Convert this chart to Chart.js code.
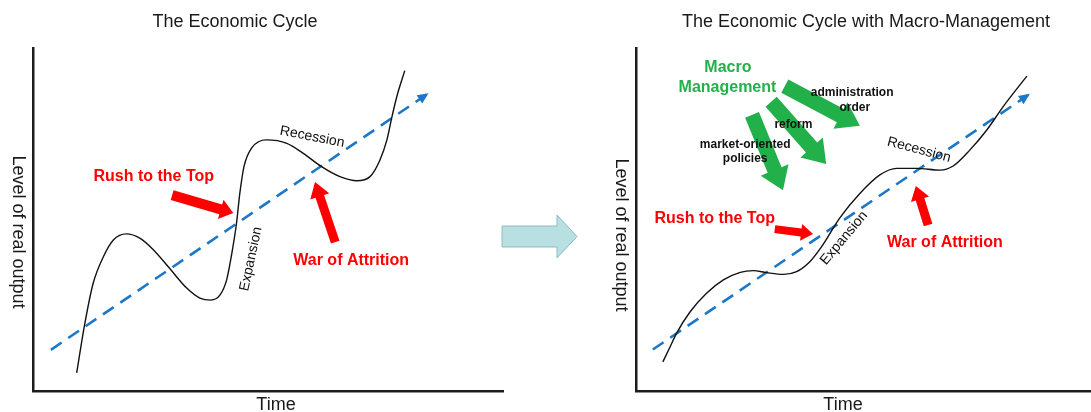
<!DOCTYPE html>
<html>
<head>
<meta charset="utf-8">
<script src="https://cdn.jsdelivr.net/npm/chart.js@4.4.1/dist/chart.umd.min.js"></script>
<style>
  body { margin: 0; background: #fff; }
  #wrap { position: relative; width: 1091px; height: 412px; overflow: hidden; }
  #leftChart  { position: absolute; left: 0;   top: 0; }
  #rightChart { position: absolute; left: 600px; top: 0; }
  #mid { position: absolute; left: 0; top: 0; }
</style>
</head>
<body>
<div id="wrap">
  <canvas id="leftChart" width="600" height="412"></canvas>
  <canvas id="rightChart" width="491" height="412"></canvas>
  <svg id="mid" width="1091" height="412">
    <polygon points="502,226 557,226 557,215 577,236.5 557,258 557,247 502,247"
             fill="#b8dfe2" stroke="#8fbcc0" stroke-width="1"/>
  </svg>
</div>
<script>
// ── Data: left panel (free cycle) ───────────────────────
const leftTime   = [9.3, 10.9, 12.8, 15.0, 17.1, 19.9, 22.8, 25.6, 29.1, 32.7, 35.5, 37.8, 39.8, 41.2, 42.3, 43.3, 44.0, 44.9, 46.5, 49.7, 54.0, 57.5, 61.4, 65.3, 68.9, 71.7, 73.8, 75.3, 76.3, 77.4, 79.1];
const leftOutput = [5.3, 18.7, 31.4, 39.2, 44.0, 45.8, 44.5, 41.2, 35.7, 30.0, 27.1, 26.5, 28.0, 32.4, 40.1, 48.9, 57.6, 65.5, 70.8, 73.2, 72.2, 69.3, 65.4, 62.5, 61.3, 62.5, 67.3, 73.2, 79.5, 85.8, 93.4];
const leftTrendTime   = [3.8, 83.8];
const leftTrendOutput = [12.0, 86.5];

// ── Data: right panel (macro-managed cycle) ─────────────
const rightTime   = [5.9, 7.5, 8.9, 11.9, 15.5, 19.2, 22.9, 25.8, 28.7, 32.4, 35.3, 38.2, 40.8, 44.8, 49.2, 53.6, 57.3, 61.7, 66.8, 69.7, 73.4, 77.1, 80.7, 85.9];
const rightOutput = [8.5, 12.9, 16.8, 23.1, 28.5, 32.4, 34.6, 35.1, 34.5, 34.0, 34.8, 37.7, 42.1, 50.5, 57.6, 63.0, 64.9, 64.9, 64.4, 65.6, 70.3, 76.1, 82.9, 91.8];
const rightTrendTime   = [3.7, 86.2];
const rightTrendOutput = [12.1, 86.3];

// ── Text / annotation setup ─────────────────────────────
const FONT = '"Liberation Sans", Arial, sans-serif';
const RED = "#ff0000";
const GREEN = "#22b04b";

const leftNotes = {
  title: "The Economic Cycle",
  titleX: 235,
  timeX: 276,
  yLabelX: 18,
  yLabelY: 232,
  arrows: [
    { from: [29.6, 57.1], to: [42.6, 51.9], shaft: 10, headW: 20, headL: 13, color: RED },
    { from: [64.3, 43.4], to: [60.0, 60.9], shaft: 9, headW: 20, headL: 15, color: RED }
  ],
  texts: [
    { t: "Rush to the Top", at: [25.7, 62.4], font: "bold 16px " + FONT, color: RED },
    { t: "War of Attrition", at: [67.7, 38.0], font: "bold 16px " + FONT, color: RED },
    { t: "Recession", at: [59.4, 74.1], rot: 11, font: "14px " + FONT, color: "#111" },
    { t: "Expansion", at: [46.4, 38.5], rot: -78, font: "14px " + FONT, color: "#111" }
  ]
};

const rightNotes = {
  title: "The Economic Cycle with Macro-Management",
  titleX: 266,
  timeX: 243,
  yLabelX: 21,
  yLabelY: 235,
  arrows: [
    { from: [32.7, 88.9], to: [49.2, 77.3], shaft: 15, headW: 30, headL: 22, color: GREEN },
    { from: [29.7, 84.3], to: [41.8, 66.2], shaft: 15, headW: 30, headL: 22, color: GREEN },
    { from: [25.5, 80.5], to: [32.3, 58.5], shaft: 15, headW: 30, headL: 22, color: GREEN },
    { from: [30.5, 47.2], to: [38.9, 45.8], shaft: 8, headW: 17, headL: 12, color: RED },
    { from: [64.2, 48.4], to: [61.5, 59.8], shaft: 9, headW: 19, headL: 14, color: RED }
  ],
  texts: [
    { t: "Macro", at: [20.2, 94.2], font: "bold 16px " + FONT, color: GREEN },
    { t: "Management", at: [20.1, 88.6], font: "bold 16px " + FONT, color: GREEN },
    { t: "administration", at: [47.5, 87.0], font: "bold 12px " + FONT, color: "#111" },
    { t: "order", at: [48.1, 82.7], font: "bold 12px " + FONT, color: "#111" },
    { t: "reform", at: [34.6, 77.6], font: "bold 12px " + FONT, color: "#111" },
    { t: "market-oriented", at: [24.0, 71.7], font: "bold 12px " + FONT, color: "#111" },
    { t: "policies", at: [24.0, 67.6], font: "bold 12px " + FONT, color: "#111" },
    { t: "Rush to the Top", at: [17.3, 50.4], font: "bold 16px " + FONT, color: RED },
    { t: "War of Attrition", at: [67.9, 43.4], font: "bold 16px " + FONT, color: RED },
    { t: "Recession", at: [62.2, 70.3], rot: 15, font: "14px " + FONT, color: "#111" },
    { t: "Expansion", at: [45.7, 44.6], rot: -50, font: "14px " + FONT, color: "#111" }
  ]
};

// ── Helpers ─────────────────────────────────────────────
function drawArrow(ctx, x0, y0, x1, y1, shaft, headW, headL, color) {
  const ang = Math.atan2(y1 - y0, x1 - x0);
  const len = Math.hypot(x1 - x0, y1 - y0);
  ctx.save();
  ctx.translate(x0, y0);
  ctx.rotate(ang);
  ctx.beginPath();
  ctx.moveTo(0, -shaft / 2);
  ctx.lineTo(len - headL, -shaft / 2);
  ctx.lineTo(len - headL, -headW / 2);
  ctx.lineTo(len, 0);
  ctx.lineTo(len - headL, headW / 2);
  ctx.lineTo(len - headL, shaft / 2);
  ctx.lineTo(0, shaft / 2);
  ctx.closePath();
  ctx.fillStyle = color;
  ctx.fill();
  ctx.restore();
}

function drawText(ctx, t, x, y, font, color, rot) {
  ctx.save();
  ctx.translate(x, y);
  if (rot) ctx.rotate(rot * Math.PI / 180);
  ctx.font = font;
  ctx.fillStyle = color;
  ctx.textAlign = "center";
  ctx.textBaseline = "middle";
  ctx.fillText(t, 0, 0);
  ctx.restore();
}

const notesPlugin = {
  id: "notes",
  afterDatasetsDraw(chart, args, opts) {
    const { ctx, scales: { x, y } } = chart;
    const n = opts.notes;

    // arrowhead at the end of the dashed trend line
    const pts = chart.getDatasetMeta(1).data;
    const a = pts[pts.length - 2], b = pts[pts.length - 1];
    const ang = Math.atan2(b.y - a.y, b.x - a.x);
    ctx.save();
    ctx.translate(b.x, b.y);
    ctx.rotate(ang);
    ctx.beginPath();
    ctx.moveTo(2, 0);
    ctx.lineTo(-9, -5);
    ctx.lineTo(-9, 5);
    ctx.closePath();
    ctx.fillStyle = "#1b78c8";
    ctx.fill();
    ctx.restore();

    n.arrows.forEach(ar => {
      drawArrow(ctx,
        x.getPixelForValue(ar.from[0]), y.getPixelForValue(ar.from[1]),
        x.getPixelForValue(ar.to[0]), y.getPixelForValue(ar.to[1]),
        ar.shaft, ar.headW, ar.headL, ar.color);
    });
    n.texts.forEach(tx => {
      drawText(ctx, tx.t, x.getPixelForValue(tx.at[0]), y.getPixelForValue(tx.at[1]),
        tx.font, tx.color, tx.rot || 0);
    });

    // titles and axis labels
    drawText(ctx, n.title, n.titleX, 22, "18px " + FONT, "#1a1a1a", 0);
    drawText(ctx, "Time", n.timeX, 405, "18px " + FONT, "#1a1a1a", 0);
    drawText(ctx, "Level of real output", n.yLabelX, n.yLabelY, "18px " + FONT, "#1a1a1a", 90);
  }
};

// ── Chart builder ───────────────────────────────────────
function makeChart(id, time, output, trendTime, trendOutput, notes, padRight, padLeft) {
  const axis = {
    type: "linear",
    min: 0,
    max: 100,
    grid: { display: false, drawTicks: false, tickLength: 0 },
    ticks: { display: false, padding: 0 },
    border: { display: true, color: "#1c1c1c", width: 2.5 }
  };
  return new Chart(document.getElementById(id), {
    type: "line",
    data: {
      datasets: [
        {
          label: "Output",
          data: time.map((t, i) => ({ x: t, y: output[i] })),
          borderColor: "#111",
          borderWidth: 1.4,
          pointRadius: 0,
          cubicInterpolationMode: "monotone",
          fill: false
        },
        {
          label: "Trend",
          data: trendTime.map((t, i) => ({ x: t, y: trendOutput[i] })),
          borderColor: "#1b78c8",
          borderWidth: 2.6,
          borderDash: [13, 8],
          pointRadius: 0,
          fill: false
        }
      ]
    },
    options: {
      responsive: false,
      animation: false,
      layout: { padding: { left: padLeft, top: 48, right: padRight, bottom: 21 } },
      scales: { x: { ...axis }, y: { ...axis } },
      plugins: {
        legend: { display: false },
        tooltip: { enabled: false },
        notes: { notes }
      }
    },
    plugins: [notesPlugin]
  });
}

makeChart("leftChart", leftTime, leftOutput, leftTrendTime, leftTrendOutput, leftNotes, 97, 33);
makeChart("rightChart", rightTime, rightOutput, rightTrendTime, rightTrendOutput, rightNotes, 0, 36);
</script>
</body>
</html>
